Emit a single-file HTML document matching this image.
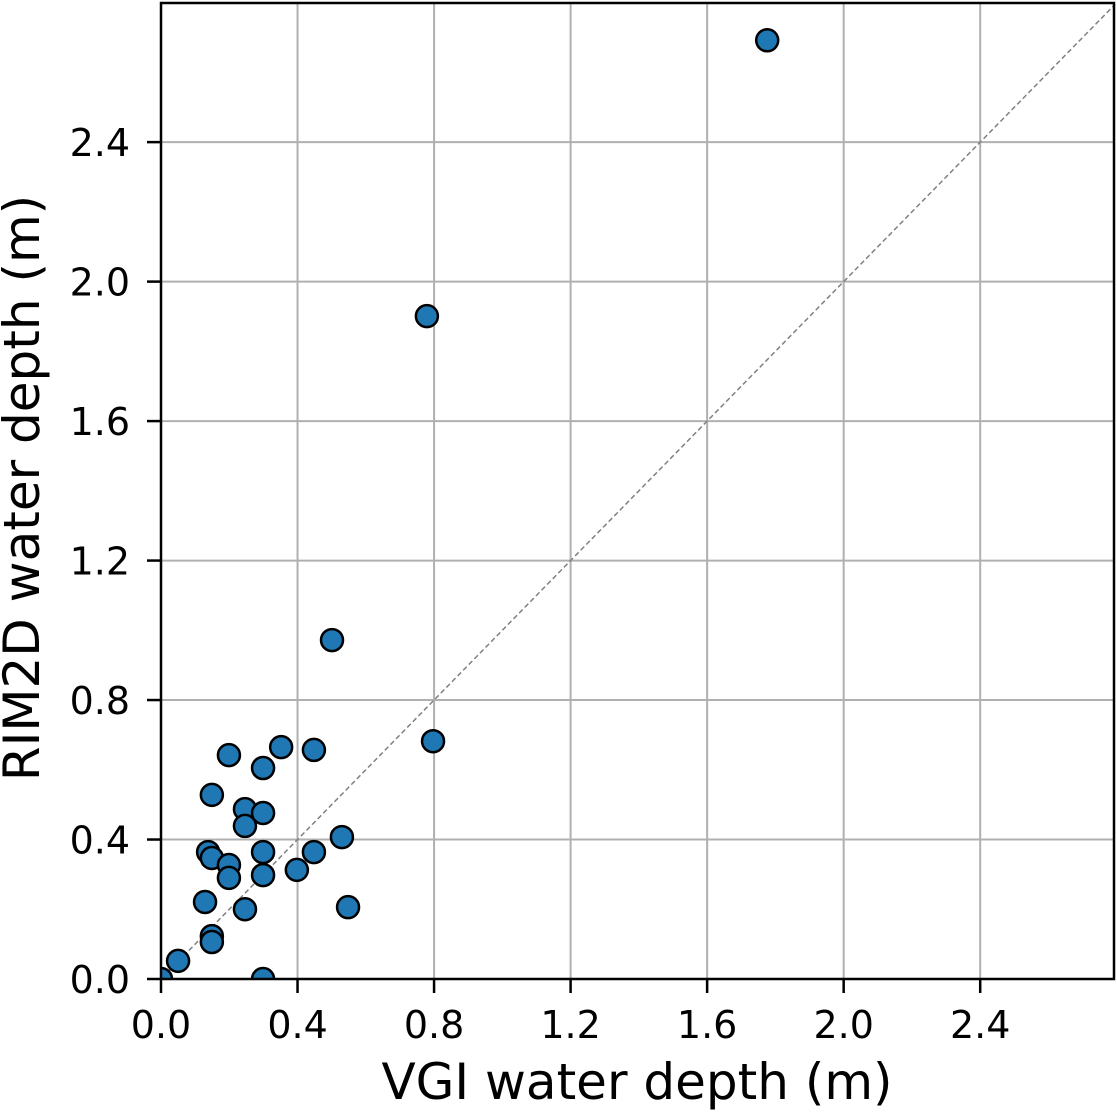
<!DOCTYPE html>
<html><head><meta charset="utf-8"><style>
body{margin:0;background:#fff;width:1117px;height:1113px;overflow:hidden}
text{font-family:"DejaVu Sans","Liberation Sans",sans-serif;fill:#000}
</style></head><body>
<svg id="chart" width="1117" height="1113" xmlns="http://www.w3.org/2000/svg"></svg>
<script>
const xTicks=[0.0,0.4,0.8,1.2,1.6,2.0,2.4];
const yTicks=[0.0,0.4,0.8,1.2,1.6,2.0,2.4];
const tickLabels=["0.0","0.4","0.8","1.2","1.6","2.0","2.4"];
const vgiDepth=[1.776,0.779,0.501,0.797,0.352,0.448,0.199,0.299,0.149,0.246,0.299,0.246,0.530,0.138,0.149,0.299,0.448,0.199,0.199,0.398,0.299,0.129,0.246,0.548,0.149,0.149,0.05,0.0,0.299];
const rimDepth=[2.692,1.901,0.972,0.682,0.665,0.657,0.642,0.605,0.528,0.487,0.476,0.439,0.407,0.364,0.347,0.364,0.364,0.327,0.290,0.313,0.298,0.221,0.200,0.206,0.123,0.106,0.052,0.0,0.0];
const L=161,R=1114,T=3,B=979,XMAX=2.792,YMAX=2.799;
const sx=v=>L+v/XMAX*(R-L), sy=v=>B-v/YMAX*(B-T);
const svg=document.getElementById('chart');const NS="http://www.w3.org/2000/svg";
function mk(t,a,p){const e=document.createElementNS(NS,t);for(const k in a)e.setAttribute(k,a[k]);(p||svg).appendChild(e);return e;}
const clip=mk('clipPath',{id:'c'});mk('rect',{x:L,y:T,width:R-L,height:B-T},clip);
xTicks.forEach((v,i)=>{
 const g=mk('line',{x1:sx(v),x2:sx(v),y1:T,y2:B,stroke:'#b0b0b0','stroke-width':2});
 
 mk('line',{x1:sx(v),x2:sx(v),y1:B,y2:B+14,stroke:'#000','stroke-width':2.5});
 const t=mk('text',{x:sx(v),y:B+59,'text-anchor':'middle','font-size':38});t.textContent=tickLabels[i];
 
});
yTicks.forEach((v,i)=>{
 const g=mk('line',{x1:L,x2:R,y1:sy(v),y2:sy(v),stroke:'#b0b0b0','stroke-width':2});
 
 mk('line',{x1:L-14,x2:L,y1:sy(v),y2:sy(v),stroke:'#000','stroke-width':2.5});
 const t=mk('text',{x:L-31,y:sy(v)+14,'text-anchor':'end','font-size':38});t.textContent=tickLabels[i];
 
});
const d=mk('line',{x1:sx(0),y1:sy(0),x2:sx(2.8),y2:sy(2.8),stroke:'#808080','stroke-width':1.5,'stroke-dasharray':'5,3','clip-path':'url(#c)'});

vgiDepth.forEach((v,i)=>{
 const c=mk('circle',{cx:sx(v),cy:sy(rimDepth[i]),r:11,fill:'#1f77b4',stroke:'#000','stroke-width':2.5,'clip-path':'url(#c)'});
 
});
const f=mk('rect',{x:L,y:T,width:R-L,height:B-T,fill:'none',stroke:'#000','stroke-width':2.5});

const xt=mk('text',{x:637,y:1099,'text-anchor':'middle','font-size':50});xt.textContent='VGI water depth (m)';

const yt=mk('text',{x:0,y:0,'text-anchor':'middle','font-size':50,transform:`translate(39,488) rotate(-90)`});yt.textContent='RIM2D water depth (m)';

</script>
</body></html>
